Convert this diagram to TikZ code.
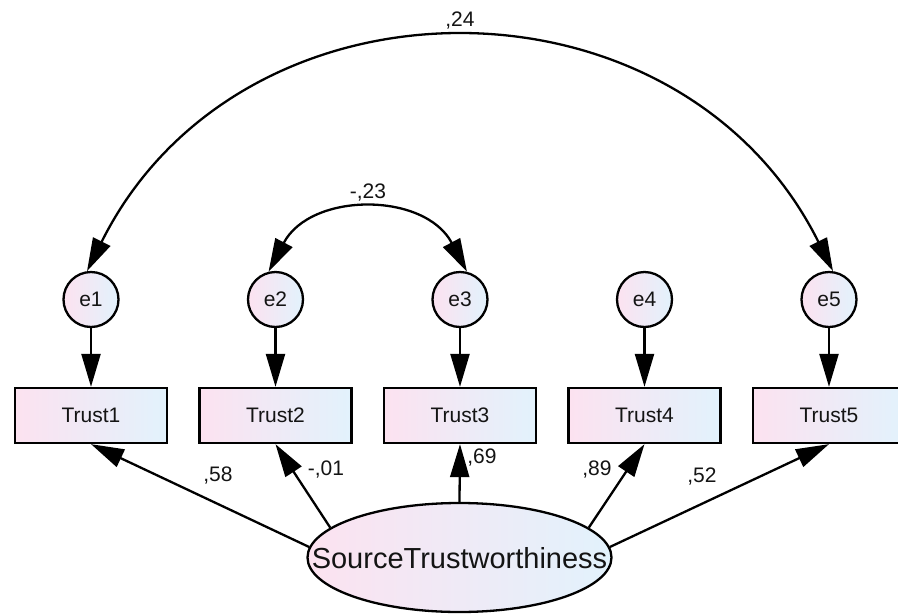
\documentclass[tikz,border=0pt]{standalone}
\usepackage{fontspec}
\setmainfont{Liberation Sans}
\usetikzlibrary{arrows.meta,shapes.geometric}
\definecolor{pinkc}{RGB}{252,226,240}
\definecolor{bluec}{RGB}{226,242,252}
\definecolor{txt}{RGB}{20,20,20}
\begin{document}
\begin{tikzpicture}[x=1pt,y=1pt,
  obs/.style={rectangle,draw=black,line width=2.3pt,left color=pinkc,right color=bluec,
    minimum width=152pt,minimum height=55pt,inner sep=0pt,text=txt,font=\fontsize{21}{25}\selectfont},
  err/.style={circle,draw=black,line width=2.3pt,left color=pinkc,right color=bluec,
    minimum size=55pt,inner sep=0pt,text=txt,font=\fontsize{21}{25}\selectfont},
  latent/.style={ellipse,draw=black,line width=2.3pt,left color=pinkc,right color=bluec,
    minimum width=304pt,minimum height=109pt,inner sep=0pt},
  lbl/.style={text=txt,inner sep=0pt,font=\fontsize{21}{25}\selectfont},
  conn/.style={line width=2.3pt,-{Triangle[length=33pt,width=19pt]}},
  biconn/.style={line width=2.3pt,{Triangle[length=33pt,width=19pt]}-{Triangle[length=33pt,width=19pt]}}
]
\clip (0,0) rectangle (898,-614);
\fill[white] (0,0) rectangle (898,-614);
% error terms
\node[err] (e1) at (91,-299.5) {e1};
\node[err] (e2) at (275.5,-299.5) {e2};
\node[err] (e3) at (460,-299.5) {e3};
\node[err] (e4) at (644.5,-299.5) {e4};
\node[err] (e5) at (829,-299.5) {e5};
% observed
\node[obs] (t1) at (91,-415.5) {Trust1};
\node[obs] (t2) at (275.5,-415.5) {Trust2};
\node[obs] (t3) at (460,-415.5) {Trust3};
\node[obs] (t4) at (644.5,-415.5) {Trust4};
\node[obs] (t5) at (829,-415.5) {Trust5};
% latent
\node[latent] (src) at (459.5,-557.5) {};
\node[text=txt,inner sep=0pt,font=\fontsize{29}{34}\selectfont] (srclbl) at (459.5,-558) {SourceTrustworthiness};
% error arrows
\foreach \i in {1,...,5} {\draw[conn] (e\i) -- (t\i);}
% loadings
\draw[conn] (src.176) -- (t1.south);
\draw[conn] (src.167) -- (t2.south);
\draw[conn] (src.90) -- (t3.south);
\draw[conn] (src.13) -- (t4.south);
\draw[conn] (src.4) -- (t5.south);
% covariances
\draw[biconn] (e1.98) to[out=63.5,in=116.5,distance=344pt] (e5.82);
\draw[biconn] (e2.104) to[out=62.2,in=117.8,distance=90.5pt] (e3.76);
% labels
\node[lbl] (l24) at (460,-21) {,24};
\node[lbl] (l23) at (368,-193) {-,23};
\node[lbl] (l58) at (218,-476) {,58};
\node[lbl] (l01) at (326,-470) {-,01};
\node[lbl] (l69) at (482,-458) {,69};
\node[lbl] (l89) at (597,-470) {,89};
\node[lbl] (l52) at (702,-477) {,52};
\end{tikzpicture}
\end{document}
